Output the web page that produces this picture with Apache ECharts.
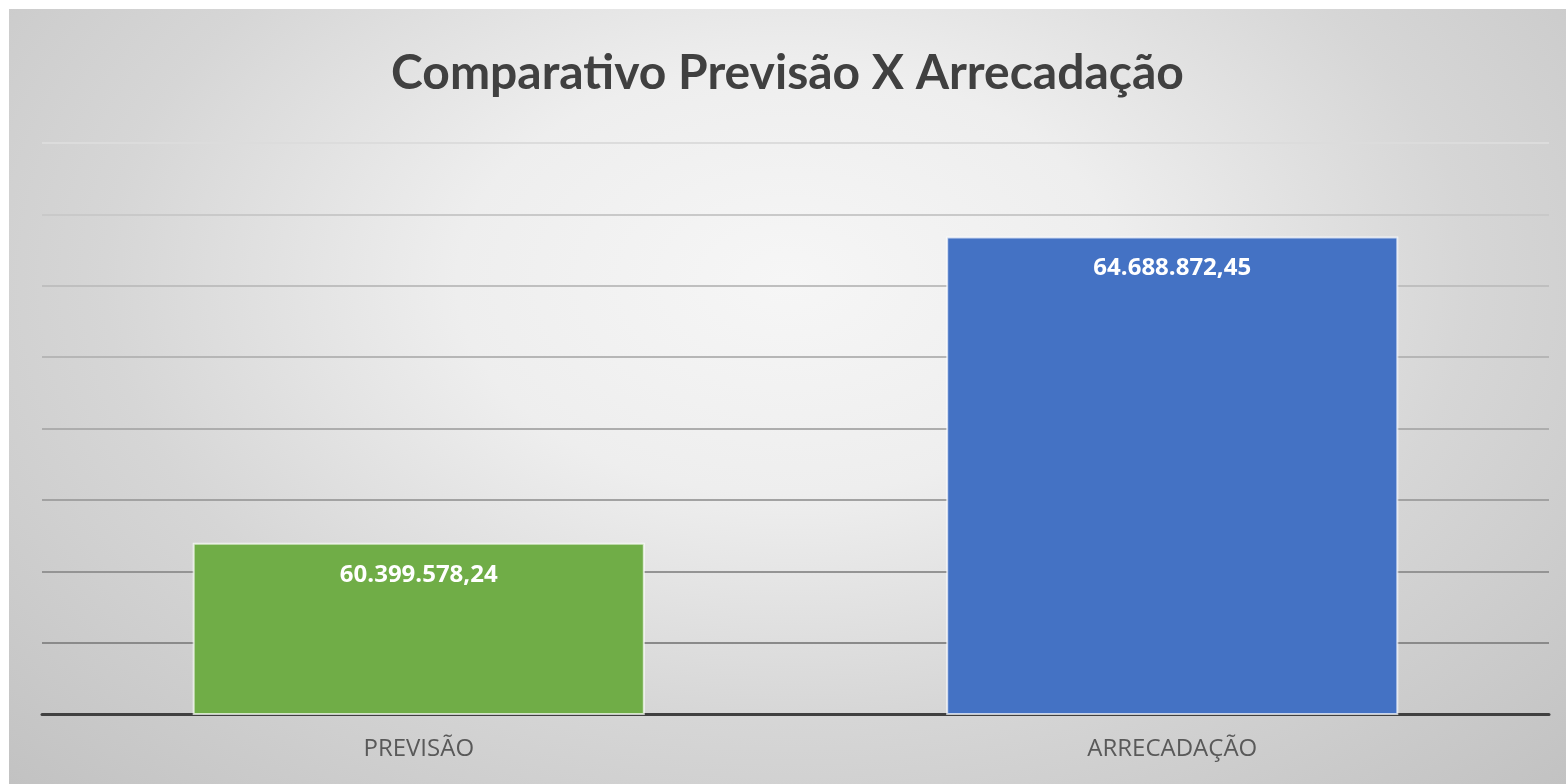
<!DOCTYPE html>
<html>
<head>
<meta charset="utf-8">
<script src="https://cdn.jsdelivr.net/npm/echarts@6/dist/echarts.min.js"></script>
<style>
	html, body { margin: 0; padding: 0; background: #ffffff; }
	#chart {
		position: absolute;
		left: 9px;
		top: 9px;
		width: 1557px;
		height: 775px;
		background: radial-gradient(ellipse farthest-corner at 50% 35%, #f6f6f6 0%, #eeeeee 30%, #d6d6d6 62%, #c2c2c2 100%);
	}
</style>
</head>
<body>
<div id="chart"></div>
<script>
var titleText = 'Comparativo Previsão X Arrecadação';
var categories = ['PREVISÃO', 'ARRECADAÇÃO'];
var values = [60399578.24, 64688872.45];
var barColors = ['#70ad47', '#4472c4'];

// gridlines fade out towards the top (first one sits under the axis line)
var gridColors = ['#404040', '#8a8a8a', '#949494', '#a2a2a2', '#adadad', '#b6b6b6', '#bfbfbf', '#c9c9c9', '#dcdcdc'];

function fmtBR(v) {
	var parts = v.toFixed(2).split('.');
	return parts[0].replace(/\B(?=(\d{3})+(?!\d))/g, '.') + ',' + parts[1];
}

var chart = echarts.init(document.getElementById('chart'), null, { renderer: 'canvas' });

var option = {
	backgroundColor: 'transparent',
	animation: false,
	title: {
		text: titleText,
		left: 'center',
		top: 36,
		textStyle: {
			fontFamily: 'Lato',
			fontWeight: 'bold',
			fontSize: 48,
			color: '#404040'
		}
	},
	grid: {
		left: 33,
		right: 17,
		top: 134,
		bottom: 70
	},
	xAxis: {
		type: 'category',
		data: categories,
		axisTick: { show: false },
		axisLine: {
			lineStyle: { color: '#404040', width: 3 }
		},
		axisLabel: {
			margin: 23,
			fontFamily: 'Open Sans',
			fontSize: 24,
			color: '#595959'
		}
	},
	yAxis: {
		type: 'value',
		min: 58000000,
		max: 66000000,
		interval: 1000000,
		axisLabel: { show: false },
		axisLine: { show: false },
		axisTick: { show: false },
		splitLine: {
			lineStyle: { color: gridColors, width: 2 }
		}
	},
	series: [
		{
			type: 'bar',
			barWidth: '60%',
			data: values.map(function(v, i) {
				return {
					value: v,
					itemStyle: { color: barColors[i] }
				};
			}),
			itemStyle: {
				borderColor: 'rgba(255,255,255,0.7)',
				borderWidth: 2
			},
			label: {
				show: true,
				position: 'insideTop',
				distance: 20,
				fontFamily: 'Open Sans',
				fontWeight: 'bold',
				fontSize: 24,
				color: '#ffffff',
				formatter: function(p) {
					return fmtBR(p.value);
				}
			}
		}
	]
};

chart.setOption(option);
</script>
</body>
</html>
